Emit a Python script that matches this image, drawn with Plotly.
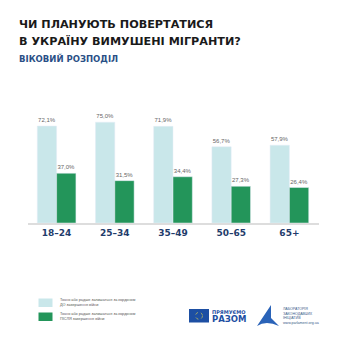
import plotly.graph_objects as go

categories = ["18–24", "25–34", "35–49", "50–65", "65+"]
before_end = [72.1, 75.0, 71.9, 56.7, 57.9]
after_end = [37.0, 31.5, 34.4, 27.3, 26.4]
legend_labels = [
    ["Точно або радше залишаться за кордоном", "ДО завершення війни"],
    ["Точно або радше залишаться за кордоном", "ПІСЛЯ завершення війни"],
]
title_lines = ["ЧИ ПЛАНУЮТЬ ПОВЕРТАТИСЯ", "В УКРАЇНУ ВИМУШЕНІ МІГРАНТИ?"]
subtitle = "ВІКОВИЙ РОЗПОДІЛ"

W = H = 345
LIGHT = "#c9e7ea"
GREEN = "#23955a"
NAVY = "#1f3c6b"


def px(x):
    return x / W


def py(y):
    return 1 - y / H


def fmt(v):
    return f"{v:.1f}".replace(".", ",") + "%"


fig = go.Figure()
fig.add_trace(go.Bar(x=categories, y=before_end, marker_color=LIGHT,
                     text=[fmt(v) for v in before_end], textposition="outside",
                     textfont=dict(size=6, color="#666", family="Liberation Sans"),
                     cliponaxis=False))
fig.add_trace(go.Bar(x=categories, y=after_end, marker_color=GREEN,
                     text=[fmt(v) for v in after_end], textposition="outside",
                     textfont=dict(size=6, color="#666", family="Liberation Sans"),
                     cliponaxis=False))

shapes = []
annotations = []

# Titles
annotations.append(dict(x=px(17), y=py(25), xref="paper", yref="paper", xanchor="left", yanchor="middle",
                         text="<b>" + title_lines[0] + "</b>", showarrow=False,
                         font=dict(family="DejaVu Sans", size=11.2, color="#1a1a1a")))
annotations.append(dict(x=px(17), y=py(41), xref="paper", yref="paper", xanchor="left", yanchor="middle",
                         text="<b>" + title_lines[1] + "</b>", showarrow=False,
                         font=dict(family="DejaVu Sans", size=11.2, color="#1a1a1a")))
annotations.append(dict(x=px(17), y=py(58), xref="paper", yref="paper", xanchor="left", yanchor="middle",
                         text="<b>" + subtitle + "</b>", showarrow=False,
                         font=dict(family="DejaVu Sans", size=8.5, color="#2a4f86")))

# Legend
for i, (col, lines) in enumerate(zip([LIGHT, GREEN], legend_labels)):
    y0 = 298.5 + i * 14
    shapes.append(dict(type="rect", xref="paper", yref="paper", x0=px(38.5), x1=px(52.5),
                       y0=py(y0), y1=py(y0 + 8.5), fillcolor=col, line_width=0))
    annotations.append(dict(x=px(58), y=py(y0 + 4.2), xref="paper", yref="paper", xanchor="left",
                            yanchor="middle", text=lines[0] + "<br>" + lines[1], showarrow=False,
                            align="left", font=dict(family="Liberation Sans", size=3.8, color="#555")))

# EU / Прямуємо разом logo
shapes.append(dict(type="rect", xref="paper", yref="paper", x0=px(189), x1=px(209),
                   y0=py(309), y1=py(322.5), fillcolor="#1d4fa3", line_width=0))
shapes.append(dict(type="circle", xref="paper", yref="paper", x0=px(195.5), x1=px(202.5),
                   y0=py(312.3), y1=py(319.3), line=dict(color="#e8d84a", width=0.6, dash="dot")))
annotations.append(dict(x=px(210), y=py(311.5), xref="paper", yref="paper", xanchor="left", yanchor="middle",
                        text="<b>ПРЯМУЄМО</b>", showarrow=False,
                        font=dict(family="DejaVu Sans", size=5, color="#1d4fa3")))
annotations.append(dict(x=px(209.5), y=py(318.5), xref="paper", yref="paper", xanchor="left", yanchor="middle",
                        text="<b>РАЗОМ</b>", showarrow=False,
                        font=dict(family="DejaVu Sans", size=8.5, color="#1d4fa3")))

# Laboratory logo (stylised sail)
shapes.append(dict(type="path", xref="paper", yref="paper",
                   path=(f"M {px(271)} {py(305)} L {px(257)} {py(326)} "
                         f"Q {px(266)} {py(320)} {px(279)} {py(326)} L {px(271)} {py(318)} Z"),
                   fillcolor="#2a63b8", line_width=0))
lab_lines = ["ЛАБОРАТОРІЯ", "ЗАКОНОДАВЧИХ", "ІНІЦІАТИВ", "www.parlament.org.ua"]
annotations.append(dict(x=px(281), y=py(315.5), xref="paper", yref="paper", xanchor="left", yanchor="middle",
                        text="<br>".join(lab_lines), showarrow=False, align="left",
                        font=dict(family="Liberation Sans", size=3.6, color="#3a5a8a")))

fig.update_layout(
    width=W, height=H,
    margin=dict(l=0, r=0, t=0, b=0),
    paper_bgcolor="white", plot_bgcolor="white",
    barmode="group", bargap=0.336, bargroupgap=0,
    showlegend=False,
    shapes=shapes, annotations=annotations,
    xaxis=dict(domain=[px(27.5), px(318.5)], range=[-0.5, 4.5], showline=True, linecolor="#dddddd",
               linewidth=2, ticks="", showgrid=False, zeroline=False,
               tickfont=dict(family="DejaVu Sans", size=9, color=NAVY), tickprefix="<b>", ticksuffix="</b>"),
    yaxis=dict(domain=[py(223), py(102)], range=[0, 90], visible=False, showgrid=False, zeroline=False),
)

fig.write_html("out.html")
